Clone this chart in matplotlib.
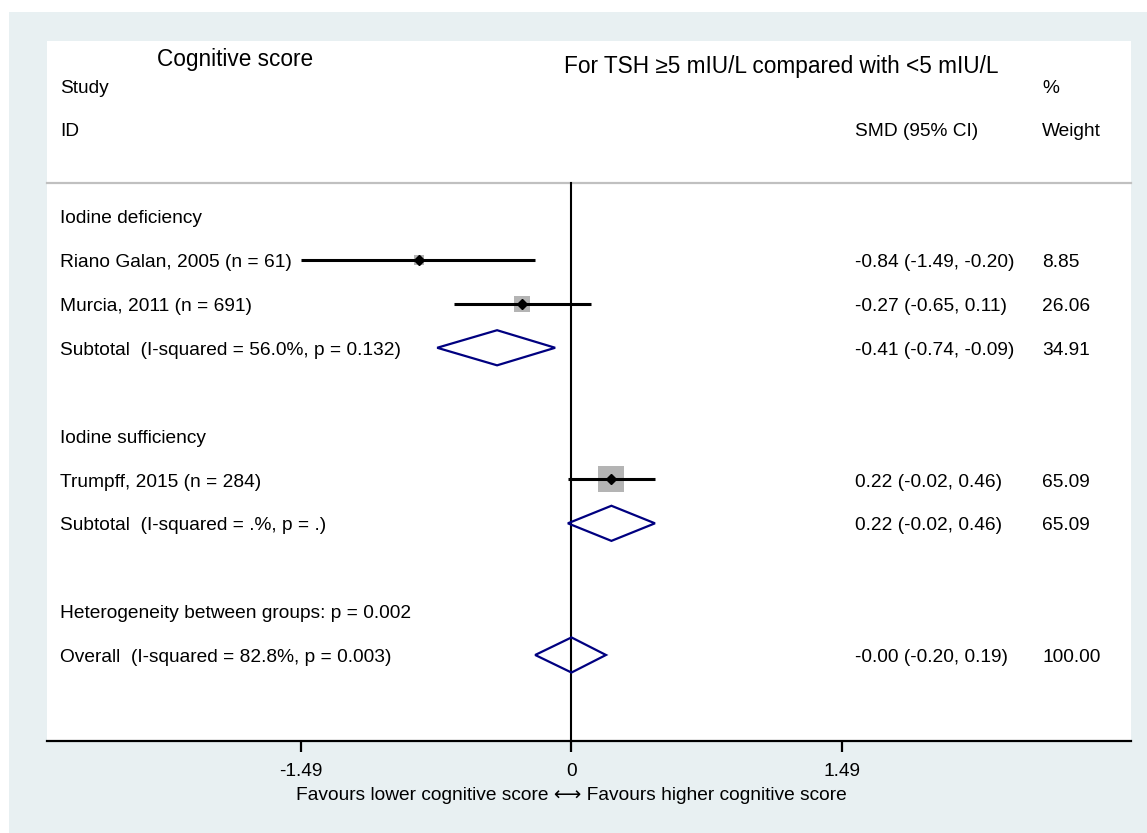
import matplotlib
matplotlib.use("Agg")
import matplotlib.pyplot as plt
from matplotlib.patches import Polygon, Rectangle
import matplotlib.transforms as mtransforms

# ---- data ----
row_labels = ["Iodine deficiency", "Riano Galan, 2005 (n = 61)", "Murcia, 2011 (n = 691)",
              "Subtotal  (I-squared = 56.0%, p = 0.132)", "",
              "Iodine sufficiency", "Trumpff, 2015 (n = 284)", "Subtotal  (I-squared = .%, p = .)", "",
              "Heterogeneity between groups: p = 0.002", "Overall  (I-squared = 82.8%, p = 0.003)"]
study_rows = [1, 2, 6]
study_est = [-0.84, -0.27, 0.22]
study_lo = [-1.49, -0.65, -0.02]
study_hi = [-0.20, 0.11, 0.46]
study_w = [8.85, 26.06, 65.09]
pooled_rows = [3, 7, 10]
pooled_est = [-0.41, 0.22, -0.00]
pooled_lo = [-0.74, -0.02, -0.20]
pooled_hi = [-0.09, 0.46, 0.19]
pooled_w = [34.91, 65.09, 100.00]
tick_vals = [-1.49, 0, 1.49]
tick_labels = ["-1.49", "0", "1.49"]

FAM = ["Liberation Sans", "DejaVu Sans"]
plt.rcParams['font.family'] = FAM
FS = 13.8

fig = plt.figure(figsize=(11.47, 8.33), dpi=100, facecolor="white")
W, H = 1147, 833
# grey outer region
fig.patches.append(Rectangle((9 / W, 0), 1 - 9 / W, 1 - 12 / H, transform=fig.transFigure,
                             facecolor="#e8f0f2", edgecolor="none", zorder=0))

XL, XR = 47, 1131
ax = fig.add_axes([XL / W, (H - 741) / H, (XR - XL) / W, 700 / H])
ax.set_facecolor("white")
ax.set_zorder(1)
ax.set_xlim(-2.890, 3.083)
ax.set_ylim(11.96, -3.99)
for s in ["top", "right", "left"]:
    ax.spines[s].set_visible(False)
ax.spines["bottom"].set_linewidth(1.6)
ax.set_yticks([])
ax.set_xticks(tick_vals)
ax.set_xticklabels(tick_labels, fontsize=FS)
ax.tick_params(axis="x", direction="out", length=8, width=1.6, pad=8)
ax.set_xlabel("Favours lower cognitive score \u27f7 Favours higher cognitive score", fontsize=FS, labelpad=6)
ax.xaxis.set_label_coords((571.5 - XL) / (XR - XL), -0.065)

trans = mtransforms.blended_transform_factory(ax.transAxes, ax.transData)


def fx(px):
    return (px - XL) / (XR - XL)


DY = 0.06
C_LAB, C_SMD, C_W = fx(60), fx(855), fx(1042)

# separator and zero line
ax.plot([0, 1], [-0.75, -0.75], transform=trans, color="#c0c0c0", lw=1.6, clip_on=False)
ax.plot([0, 0], [-0.75, 11.96], color="black", lw=1.5)

# header texts
ax.text(fx(235), -3.62 + DY, "Cognitive score", transform=trans, fontsize=16.3, ha="center", va="center")
ax.text(fx(781), -3.47 + DY, "For TSH \u22655 mIU/L compared with <5 mIU/L", transform=trans,
        fontsize=16.3, ha="center", va="center")
ax.text(C_LAB, -2.96 + DY, "Study", transform=trans, fontsize=FS, va="center")
ax.text(C_LAB, -1.98 + DY, "ID", transform=trans, fontsize=FS, va="center")
ax.text(C_W, -2.96 + DY, "%", transform=trans, fontsize=FS, va="center")
ax.text(C_SMD, -1.98 + DY, "SMD (95% CI)", transform=trans, fontsize=FS, va="center")
ax.text(C_W, -1.98 + DY, "Weight", transform=trans, fontsize=FS, va="center")

# row labels
for i, lab in enumerate(row_labels):
    if lab:
        ax.text(C_LAB, i + DY, lab, transform=trans, fontsize=FS, va="center")

# studies
for r, e, lo, hi, w in zip(study_rows, study_est, study_lo, study_hi, study_w):
    ax.scatter([e], [r], s=5.6 * w, marker="s", color="#b4b4b4", linewidths=0, zorder=2)
    ax.plot([lo, hi], [r, r], color="black", lw=2.2, zorder=3, solid_capstyle="butt")
    ax.plot([e], [r], marker="D", color="black", markersize=5.5, zorder=4)
    ax.text(C_SMD, r + DY, f"{e:.2f} ({lo:.2f}, {hi:.2f})", transform=trans, fontsize=FS, va="center")
    ax.text(C_W, r + DY, f"{w:.2f}", transform=trans, fontsize=FS, va="center")

# pooled diamonds
for r, e, lo, hi, w in zip(pooled_rows, pooled_est, pooled_lo, pooled_hi, pooled_w):
    hh = 0.40
    ax.add_patch(Polygon([[lo, r], [e, r - hh], [hi, r], [e, r + hh]], closed=True,
                         facecolor="none", edgecolor="#000080", lw=1.6, zorder=3))
    ax.text(C_SMD, r + DY, f"{e:.2f} ({lo:.2f}, {hi:.2f})", transform=trans, fontsize=FS, va="center")
    ax.text(C_W, r + DY, f"{w:.2f}", transform=trans, fontsize=FS, va="center")

fig.savefig("out.png", dpi=100, facecolor="white")
